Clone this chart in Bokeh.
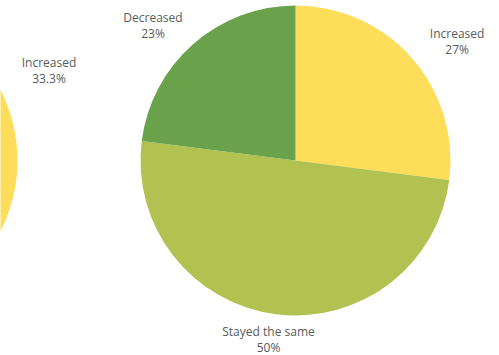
import math
from bokeh.plotting import figure
from bokeh.models import Range1d, ColumnDataSource
from bokeh.core.properties import value
from bokeh.embed import file_html
from bokeh.resources import INLINE

# ---- data ----
main_labels = ["Increased", "Stayed the same", "Decreased"]
main_values = [27, 50, 23]
main_colors = ["#FEDD5A", "#B2C250", "#6AA14B"]

left_labels = ["Increased"]
left_values = [33.3]
left_colors = ["#FEDD5A"]

# ---- layout (pie radius = 1 unit) ----
W, H = 499, 355
R_PX = 155.0
CX_PX, CY_PX = 295.0, 160.0
LEFT_CENTER_X = (-138.0 - CX_PX) / R_PX
LABEL_RX, LABEL_RY = 1.39, 1.165

p = figure(width=W, height=H, output_backend="svg", toolbar_location=None,
           min_border=0, outline_line_color=None,
           x_range=Range1d(-CX_PX / R_PX, (W - CX_PX) / R_PX),
           y_range=Range1d(-(H - CY_PX) / R_PX, CY_PX / R_PX))
p.axis.visible = False
p.grid.visible = False
p.background_fill_color = "white"
p.border_fill_color = "white"


def fmt(v):
    s = f"{v:.1f}"
    return (s[:-2] if s.endswith(".0") else s) + "%"


def add_pie(cx, labels, values, colors, total=100.0):
    starts, ends, mids = [], [], []
    cum = 0.0
    for v in values:
        s = cum / total
        e = (cum + v) / total
        starts.append(math.pi / 2 - 2 * math.pi * e)
        ends.append(math.pi / 2 - 2 * math.pi * s)
        mids.append(2 * math.pi * (s + e) / 2)  # clockwise from top
        cum += v
    src = ColumnDataSource(dict(x=[cx] * len(values), y=[0] * len(values),
                                start=starts, end=ends, color=colors))
    p.wedge(x="x", y="y", radius=1.0, start_angle="start", end_angle="end",
            direction="anticlock", fill_color="color", line_color=None, source=src)
    lx = [cx + math.sin(m) * LABEL_RX for m in mids]
    ly = [math.cos(m) * LABEL_RY for m in mids]
    tsrc = ColumnDataSource(dict(x=lx, y=ly, name=labels, pct=[fmt(v) for v in values]))
    common = dict(text_font=value("Open Sans"), text_font_size="12px",
                  text_color="#5a5a5a", text_align="center", text_baseline="middle")
    p.text(x="x", y="y", text="name", y_offset=-8, source=tsrc, **common)
    p.text(x="x", y="y", text="pct", y_offset=8, source=tsrc, **common)


add_pie(LEFT_CENTER_X, left_labels, left_values, left_colors)
add_pie(0.0, main_labels, main_values, main_colors)

open("out.html", "w").write(file_html(p, INLINE))
